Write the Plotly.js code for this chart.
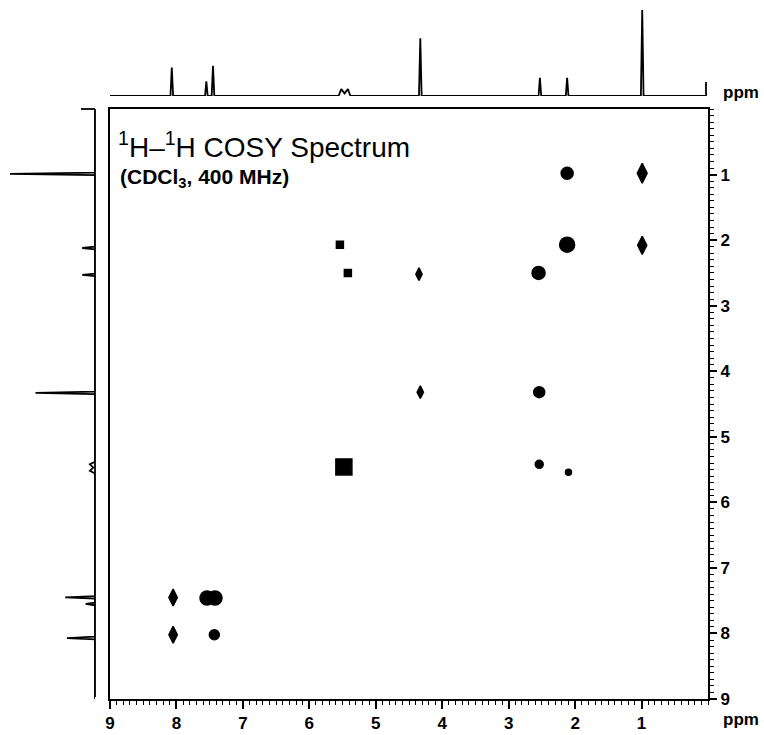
<!DOCTYPE html>
<html>
<head>
<meta charset="utf-8">
<script src="https://cdn.plot.ly/plotly-3.0.1.min.js"></script>
<style>html,body{margin:0;padding:0;background:#fff;}#chart{width:764px;height:735px;}</style>
</head>
<body>
<div id="chart"></div>
<script>
// ---- 2D COSY cross/diagonal peaks (ppm) ----
const peakF2 = [2.12, 0.99, 2.12, 0.99, 5.54, 5.42, 4.35, 2.55, 4.33, 2.54, 5.48, 2.54, 2.10, 8.05, 7.54, 7.42, 8.05, 7.43];
const peakF1 = [0.98, 0.98, 2.07, 2.08, 2.07, 2.50, 2.52, 2.50, 4.32, 4.32, 5.46, 5.42, 5.54, 7.45, 7.46, 7.46, 8.02, 8.02];

// ---- 1D projection spectrum (ppm, relative intensity) ----
const specPpm = [9.00, 8.09, 8.07, 8.05, 7.57, 7.55, 7.53, 7.47, 7.45, 7.43, 7.40, 5.56, 5.52, 5.47, 5.42, 5.38, 4.35, 4.33, 4.31, 2.55, 2.53, 2.51, 2.14, 2.12, 2.10, 1.01, 0.99, 0.97, 0.03];
const topInt  = [0, 0, 33, 0, 0, 17, 0, 0, 35, 0, 0, 0, 8, 3, 8, 0, 0, 67, 0, 0, 21, 0, 0, 21, 0, 0, 100, 0, 0];
const leftInt = [0, 0, 33, 0, 0, 11, 0, 0, 35, 0, 0, 0, 6, 2, 6, 0, 0, 70, 0, 0, 15, 0, 0, 15, 0, 0, 100, 0, 0];

// ---- axis ticks ----
const tickPpm = [1, 2, 3, 4, 5, 6, 7, 8, 9];
const tickText = ['1', '2', '3', '4', '5', '6', '7', '8', '9'];

// styles (kept separate from data)
const peakSymbols = ['circle','diamond-tall','circle','diamond-tall','square','square','diamond-tall','circle','diamond-tall','circle','square','circle','circle','diamond-tall','circle','circle','diamond-tall','circle'];
const peakSizes = [12, 14, 15, 13, 7, 7, 9, 13, 9, 11, 16, 8, 6, 12, 14, 14, 12, 10];

const W = 764, H = 735;
const px = v => v / W, py = v => (H - v) / H;

const traces = [
  {
    type: 'scatter', mode: 'markers', x: peakF2, y: peakF1, xaxis: 'x', yaxis: 'y',
    marker: {color: '#000', opacity: 1, symbol: peakSymbols, size: peakSizes, line: {color: '#000', width: 1.5}},
    opacity: 1, hoverinfo: 'x+y', showlegend: false
  },
  {
    type: 'scatter', mode: 'lines', x: specPpm, y: topInt, xaxis: 'x', yaxis: 'y3',
    line: {color: '#000', width: 1.8}, showlegend: false, cliponaxis: false
  },
  {
    type: 'scatter', mode: 'lines', x: leftInt, y: specPpm, xaxis: 'x2', yaxis: 'y',
    line: {color: '#000', width: 1.8}, showlegend: false, cliponaxis: false
  }
];

const tickFont = {family: 'Liberation Sans, Arial, sans-serif', size: 17, color: '#000', weight: 'bold'};

const layout = {
  width: W, height: H,
  margin: {l: 0, r: 0, t: 0, b: 0},
  paper_bgcolor: '#fff', plot_bgcolor: '#fff',
  showlegend: false,
  xaxis: {
    domain: [px(110), px(708)], range: [9, 0], anchor: 'y',
    showline: true, mirror: true, linecolor: '#000', linewidth: 2,
    showgrid: false, zeroline: false,
    ticks: 'outside', ticklen: 8, tickwidth: 2, tickcolor: '#000',
    tickvals: tickPpm, ticktext: tickText, tickfont: tickFont,
    minor: {dtick: 0.1, ticks: 'outside', ticklen: 4, tickwidth: 1, tickcolor: '#000', showgrid: false}
  },
  yaxis: {
    domain: [py(699), py(109)], range: [9, 0], anchor: 'x', side: 'right',
    showline: true, mirror: true, linecolor: '#000', linewidth: 2,
    showgrid: false, zeroline: false,
    ticks: 'outside', ticklen: 7, tickwidth: 2, tickcolor: '#000',
    tickvals: tickPpm, ticktext: tickText, tickfont: tickFont,
    minor: {dtick: 0.1, ticks: 'outside', ticklen: 4, tickwidth: 1, tickcolor: '#000', showgrid: false}
  },
  xaxis2: {
    domain: [px(10), px(95)], range: [100, 0], anchor: 'y', visible: false
  },
  yaxis3: {
    domain: [py(96), py(10)], range: [0, 100], anchor: 'x', visible: false
  },
  shapes: [
    {type: 'line', xref: 'paper', yref: 'paper', x0: px(81), x1: px(95), y0: py(109), y1: py(109), line: {color: '#000', width: 1.8}},
    {type: 'line', xref: 'paper', yref: 'paper', x0: px(95), x1: px(95), y0: py(109), y1: py(697), line: {color: '#000', width: 1.8}},
    {type: 'line', xref: 'paper', yref: 'paper', x0: px(706), x1: px(706), y0: py(96), y1: py(82), line: {color: '#000', width: 1.8}}
  ],
  annotations: [
    {xref: 'paper', yref: 'paper', x: px(116), y: py(145), xanchor: 'left', yanchor: 'middle', showarrow: false,
     text: '<sup>1</sup>H–<sup>1</sup>H COSY Spectrum',
     font: {family: 'Liberation Sans, Arial, sans-serif', size: 28, color: '#000'}},
    {xref: 'paper', yref: 'paper', x: px(118), y: py(178), xanchor: 'left', yanchor: 'middle', showarrow: false,
     text: '(CDCl<sub>3</sub>, 400 MHz)',
     font: {family: 'Liberation Sans, Arial, sans-serif', size: 21, color: '#000', weight: 'bold'}},
    {xref: 'paper', yref: 'paper', x: px(741), y: py(719), xanchor: 'center', yanchor: 'middle', showarrow: false,
     text: 'ppm', font: tickFont},
    {xref: 'paper', yref: 'paper', x: px(741), y: py(93), xanchor: 'center', yanchor: 'middle', showarrow: false,
     text: 'ppm', font: tickFont}
  ]
};

Plotly.newPlot('chart', traces, layout, {displayModeBar: false, staticPlot: true});
</script>
</body>
</html>
